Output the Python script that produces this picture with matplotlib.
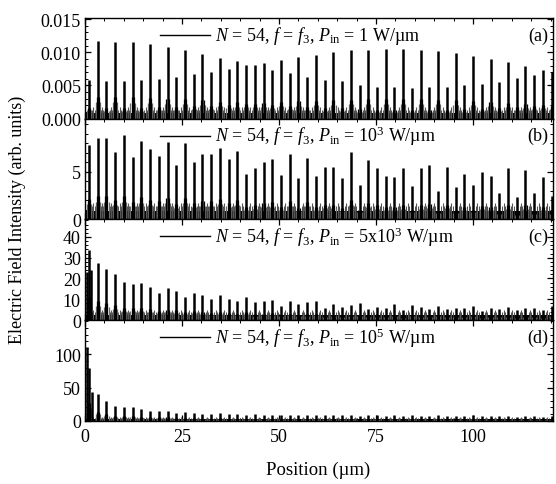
import numpy as np
import matplotlib
matplotlib.use('Agg')
import matplotlib.pyplot as plt
from matplotlib.ticker import MultipleLocator

plt.rcParams['font.family'] = 'Liberation Serif'
plt.rcParams['mathtext.fontset'] = 'custom'
plt.rcParams['mathtext.rm'] = 'Liberation Serif'
plt.rcParams['mathtext.it'] = 'Liberation Serif:italic'
plt.rcParams['font.size'] = 13

# peak positions along the structure (um)
positions = [1.0, 3.25, 5.5, 7.75, 10.0, 12.25, 14.5, 16.75, 19.0, 21.25,
             23.5, 25.75, 28.0, 30.25, 32.5, 34.75, 37.0, 39.25, 41.5, 43.75,
             46.0, 48.25, 50.5, 52.75, 55.0, 57.25, 59.5, 61.75, 64.0, 66.25,
             68.5, 70.75, 73.0, 75.25, 77.5, 79.75, 82.0, 84.25, 86.5, 88.75,
             91.0, 93.25, 95.5, 97.75, 100.0, 102.25, 104.5, 106.75, 109.0, 111.25,
             113.5, 115.75, 118.0, 120.25]

# peak intensities per panel
peaks_a = [0.0059, 0.0117, 0.0057, 0.0116, 0.0057, 0.0115, 0.0058, 0.0112, 0.0060, 0.0108,
           0.0063, 0.0104, 0.0067, 0.0098, 0.0070, 0.0092, 0.0075, 0.0087, 0.0081, 0.0081,
           0.0084, 0.0074, 0.0089, 0.0069, 0.0093, 0.0063, 0.0096, 0.0058, 0.0100, 0.0057,
           0.0103, 0.0051, 0.0104, 0.0048, 0.0105, 0.0047, 0.0105, 0.0046, 0.0104, 0.0047,
           0.0102, 0.0048, 0.0099, 0.0050, 0.0095, 0.0053, 0.0090, 0.0056, 0.0086, 0.0061,
           0.0079, 0.0066, 0.0074, 0.0070]
peaks_b = [7.8, 8.6, 8.6, 7.1, 8.9, 6.6, 8.2, 7.4, 6.7, 8.1,
           5.7, 8.0, 6.0, 6.9, 6.9, 7.5, 6.3, 7.2, 4.8, 5.4,
           6.0, 6.4, 4.7, 6.9, 4.3, 6.5, 4.6, 5.5, 5.5, 4.4,
           7.1, 3.6, 6.2, 5.4, 4.6, 4.5, 5.4, 3.5, 5.4, 5.7,
           3.0, 5.5, 3.4, 4.8, 3.6, 5.0, 4.6, 2.8, 5.4, 2.4,
           5.2, 2.8, 4.5, 2.5]
peaks_c = [33.7, 27.3, 24.4, 22.0, 18.2, 17.2, 18.0, 15.7, 13.2, 15.3,
           14.0, 11.2, 13.2, 12.0, 10.0, 12.0, 10.0, 9.2, 11.2, 8.5,
           9.3, 9.6, 6.9, 9.3, 7.7, 8.5, 9.0, 5.6, 7.6, 6.4,
           7.2, 8.0, 5.3, 6.4, 5.9, 7.6, 4.8, 7.2, 6.4, 5.1,
           6.9, 5.1, 5.9, 5.6, 6.9, 4.3, 5.9, 5.1, 6.4, 4.8,
           5.9, 5.6, 4.8, 6.9]
peaks_d = [80, 40, 29, 22, 20, 20, 17, 15, 15, 15,
           12, 13, 12, 10, 10, 11, 10, 10, 9, 10,
           9, 9, 8, 9, 8, 9, 8, 8, 9, 8,
           8, 7, 8, 8, 7, 8, 7, 8, 7, 7,
           8, 7, 7, 7, 8, 7, 7, 7, 7, 6,
           7, 7, 6, 7]

# extra spikes right at the entrance
entrance_x = [[], [], [0.4, 1.5], [0.4, 1.8]]
entrance_y = [[], [], [23, 24], [112, 44]]

# dense background level and shoulder fraction per panel
base_levels = [0.0009, 0.9, 2.6, 3.0]
shoulder_frac = [0.28, 0.28, 0.33, 0.33]

powers = ['1', '10$^3$', '5x10$^3$', '10$^5$']
tags = ['(a)', '(b)', '(c)', '(d)']
ylims = [0.0152, 10.6, 48.5, 152]
yticks = [[0, 0.005, 0.010, 0.015], [0, 5], [0, 10, 20, 30, 40], [0, 50, 100]]
ytick_labels = [['0.000', '0.005', '0.010', '0.015'], ['0', '5'],
                ['0', '10', '20', '30', '40'], ['0', '50', '100']]
yminor = [0.001, 1, 2, 10]

all_peaks = [peaks_a, peaks_b, peaks_c, peaks_d]

fig = plt.figure(figsize=(5.56, 4.85), dpi=100)
gs = fig.add_gridspec(4, 1, left=0.153, right=0.9946, top=0.961, bottom=0.1305, hspace=0)

pos = np.array(positions)
for i in range(4):
    ax = fig.add_subplot(gs[i])
    pk = np.array(all_peaks[i])

    # dense oscillation band
    ax.fill_between([0, 121], 0, base_levels[i], color='black', lw=0)
    # half-way ripples between peaks
    ax.vlines(pos[:-1] + 1.125, 0, base_levels[i] * 1.9, color='#555555', lw=0.8)
    ax.vlines(pos[:-1] + 0.8, 0, base_levels[i] * 1.5, color='#333333', lw=0.6)
    ax.vlines(pos[:-1] + 1.45, 0, base_levels[i] * 1.5, color='#333333', lw=0.6)
    # shoulders around each peak
    sh = shoulder_frac[i] * pk
    for off, col, f in [(-0.55, '#6a6a6a', 0.75), (0.55, '#6a6a6a', 0.75),
                        (-0.28, 'black', 1.0), (0.28, 'black', 1.0)]:
        ax.vlines(pos + off, 0, sh * f, color=col, lw=0.9)
    # main peaks
    ax.vlines(pos, 0, pk, color='black', lw=1.8)
    if entrance_x[i]:
        ax.vlines(entrance_x[i], 0, entrance_y[i], color='black', lw=1.8)

    ax.set_xlim(0, 120.6)
    ax.set_ylim(0, ylims[i])
    ax.set_yticks(yticks[i])
    ax.set_yticklabels(ytick_labels[i])
    ax.yaxis.set_minor_locator(MultipleLocator(yminor[i]))
    ax.xaxis.set_major_locator(MultipleLocator(25))
    ax.xaxis.set_minor_locator(MultipleLocator(5))
    ax.tick_params(which='both', direction='in', top=True, right=True, labelsize=13)
    ax.tick_params(which='major', length=4, width=0.9, pad=3)
    ax.tick_params(which='minor', length=2.5, width=0.7)
    ax.tick_params(axis='x', pad=5)
    if i < 3:
        ax.tick_params(labelbottom=False)
    for s in ax.spines.values():
        s.set_linewidth(1.0)

    # legend-like annotation
    ax.plot([0.160, 0.267], [0.83, 0.83], color='black', lw=1.0, transform=ax.transAxes)
    ax.text(0.278, 0.83, r'$N$ = 54, $f$ = $f_3$, $P_{\rm in}$ = ' + powers[i] + ' W/µm',
            transform=ax.transAxes, va='center', ha='left', fontsize=13)
    ax.text(0.99, 0.83, tags[i], transform=ax.transAxes, va='center', ha='right', fontsize=13)

    if i == 3:
        ax.set_xticks([0, 25, 50, 75, 100])

fig.text(0.032, 0.546, 'Electric Field Intensity (arb. units)', rotation=90,
         va='center', ha='center', fontsize=13)
fig.text(0.573, 0.031, 'Position (µm)', va='center', ha='center', fontsize=13.5)

fig.savefig('out.png', dpi=100)
